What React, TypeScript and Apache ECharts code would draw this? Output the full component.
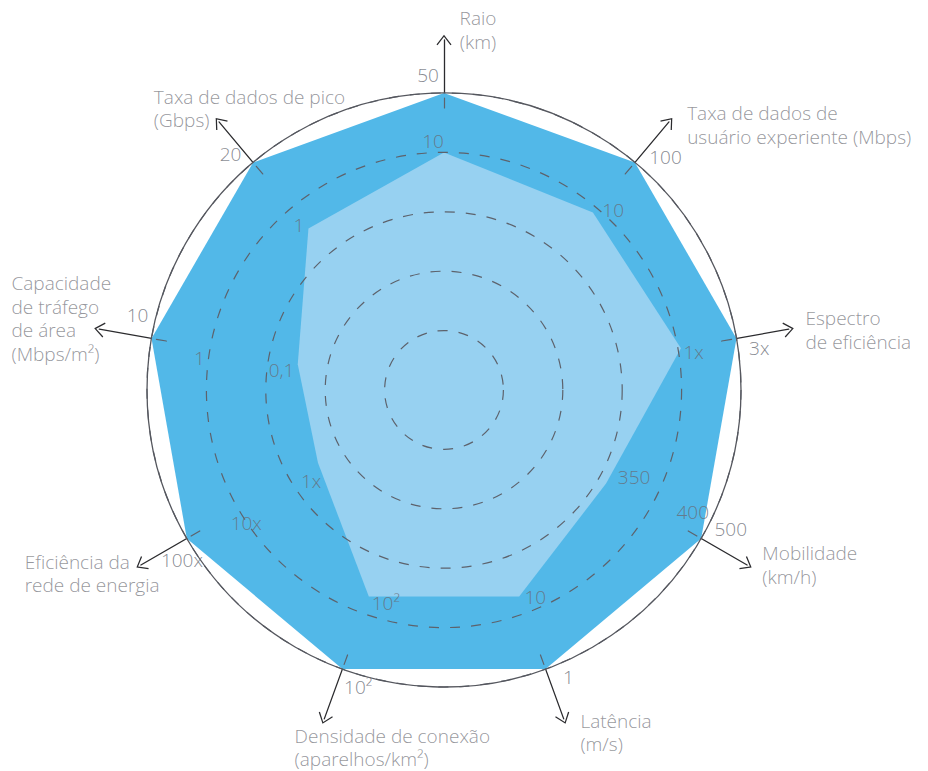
import React, { useEffect, useRef } from 'react';
import * as echarts from 'echarts';

// ---------- data ----------
const AXIS_NAMES = [
  'Raio\n(km)',
  'Taxa de dados de\nusuário experiente (Mbps)',
  'Espectro\nde eficiência',
  'Mobilidade\n(km/h)',
  'Latência\n(m/s)',
  'Densidade de conexão\n(aparelhos/km²)',
  'Eficiência da\nrede de energia',
  'Capacidade\nde tráfego\nde área\n(Mbps/m²)',
  'Taxa de dados de pico\n(Gbps)',
];

// normalised radial position (0-100 = centre to outer circle), clockwise from top
const OUTER_VALUES = [100, 100, 100, 100, 100, 100, 100, 100, 100];
const INNER_VALUES = [80, 78, 81, 63, 74, 74, 49, 50, 71];

// tick labels along the axes
const TICK_AXIS = [0, 0, 1, 1, 2, 2, 3, 3, 3, 4, 4, 5, 5, 6, 6, 6, 7, 7, 7, 8, 8];
const TICK_VALUE = [106, 84, 108, 83, 107, 85, 107, 93, 70, 105, 76, 104, 74, 105, 80, 54, 106, 83, 55, 107, 74];
const TICK_TEXT = ['50', '10', '100', '10', '3x', '1x', '500', '400', '350', '1', '10', '10²', '10²', '100x', '10x', '1x', '10', '1', '0,1', '20', '1'];

// ---------- layout / style ----------
const CX = 444;
const CY = 390;
const R = 297;
const ARROW_R = 350;
const NAME_VALUE = 119.5;
// perpendicular shift (px) of each tick label, + = clockwise side
const TICK_SHIFT = [-16, -11, 20, 14, 13, 6, -23, -19, -20, -19, -15, -21, -18, -16, -16, -12, 21, -11, -9, -12, -5];
// name block offset from arrow tip and alignment
const NAME_LAYOUT: { dx: number; dy: number; align: string }[] = [
  { dx: 34, dy: -5, align: 'center' },
  { dx: 15, dy: 7, align: 'left' },
  { dx: 12, dy: 1.5, align: 'left' },
  { dx: 11, dy: -2.5, align: 'left' },
  { dx: 15, dy: 9, align: 'left' },
  { dx: -28, dy: 24, align: 'left' },
  { dx: -112, dy: 6, align: 'left' },
  { dx: -83, dy: -10, align: 'left' },
  { dx: -62, dy: -9.5, align: 'left' },
];

const FONT = 'Open Sans';
const NAME_COLOR = '#7b7c84';
const TICK_COLOR = '#686b74';
const DARK_BLUE = '#52b8e8';
const LIGHT_BLUE = '#97d1f1';
const DASH_COLOR = '#5d626c';
const FONT_SIZE = 19;

const ARROW_PATH = 'path://M75 0 L150 96 L140 104 L75 20 L10 104 L0 96 Z';

export default function App() {
  const ref = useRef<HTMLDivElement>(null);

  useEffect(() => {
    if (!ref.current) return;
    const chart = echarts.init(ref.current, undefined, { renderer: 'svg' });
    const N = AXIS_NAMES.length;
    const STEP = 360 / N;
    // radar lays out indicators counter-clockwise; reorder so that visual order is clockwise
    const order = [0, ...Array.from({ length: N - 1 }, (_, i) => N - 1 - i)];
    const indicators = order.map((i) => ({ name: AXIS_NAMES[i], min: 0, max: 100 }));
    const reorder = (arr: number[]) => order.map((i) => arr[i]);

    const baseRadar = {
      center: [CX, CY],
      startAngle: 90,
      shape: 'circle',
      indicator: indicators,
      axisName: { show: false },
      splitArea: { show: false },
      axisLabel: { show: false },
      axisTick: { show: false },
    };

    const perp = (axis: number) => {
      const t = axis * STEP * Math.PI / 180;
      return [Math.cos(t), Math.sin(t)];
    };

    const tickData = TICK_TEXT.map((text, k) => {
      const a = TICK_AXIS[k];
      const p = perp(a);
      const s = TICK_SHIFT[k];
      return {
        value: [TICK_VALUE[k], a * STEP],
        label: {
          show: true,
          position: 'inside',
          formatter: text,
          offset: [p[0] * s, p[1] * s],
          align: 'center',
          verticalAlign: 'middle',
          color: TICK_COLOR,
          fontSize: FONT_SIZE,
          fontFamily: FONT,
          fontWeight: 300,
        },
      };
    });

    const nameData = AXIS_NAMES.map((name, a) => ({
      value: [NAME_VALUE, a * STEP],
      label: {
        show: true,
        position: 'inside',
        formatter: name,
        offset: [NAME_LAYOUT[a].dx, NAME_LAYOUT[a].dy],
        align: NAME_LAYOUT[a].align,
        verticalAlign: 'middle',
        color: NAME_COLOR,
        fontSize: FONT_SIZE,
        lineHeight: 23.5,
        fontFamily: FONT,
        fontWeight: 300,
      },
    }));

    chart.setOption({
      animation: false,
      backgroundColor: '#ffffff',
      radar: [
        {
          ...baseRadar,
          radius: R,
          splitNumber: 5,
          z: 3,
          axisLine: { show: false },
          splitLine: { show: true, lineStyle: { color: DASH_COLOR, width: 1.2, type: [10, 11] } },
        },
        {
          ...baseRadar,
          radius: R,
          splitNumber: 1,
          z: 3,
          axisLine: { show: false },
          splitLine: { show: true, lineStyle: { color: '#55575e', width: 1.3, type: 'solid' } },
        },
        {
          ...baseRadar,
          radius: ARROW_R,
          splitNumber: 1,
          z: 1,
          splitLine: { show: false },
          axisLine: {
            show: true,
            symbol: ['none', ARROW_PATH],
            symbolSize: [15, 11],
            lineStyle: { color: '#2b2b2e', width: 1.3 },
          },
        },
        {
          ...baseRadar,
          radius: R,
          splitNumber: 1,
          z: 4,
          splitLine: { show: false },
          axisLine: {
            show: true,
            lineStyle: { color: DASH_COLOR, width: 1.2, type: [10, 2000], dashOffset: 1728 },
          },
        },
      ],
      polar: { center: [CX, CY], radius: R * 1.3 },
      angleAxis: {
        type: 'value', min: 0, max: 360, startAngle: 90, clockwise: true, show: false,
        axisLine: { show: false }, axisTick: { show: false }, axisLabel: { show: false }, splitLine: { show: false },
      },
      radiusAxis: {
        type: 'value', min: 0, max: 130, show: false,
        axisLine: { show: false }, axisTick: { show: false }, axisLabel: { show: false }, splitLine: { show: false },
      },
      series: [
        {
          type: 'radar',
          radarIndex: 0,
          symbol: 'none',
          z: 2,
          lineStyle: { width: 0, opacity: 0 },
          data: [
            { value: reorder(OUTER_VALUES), areaStyle: { color: DARK_BLUE, opacity: 1 } },
            { value: reorder(INNER_VALUES), areaStyle: { color: LIGHT_BLUE, opacity: 1 } },
          ],
        },
        {
          type: 'scatter',
          coordinateSystem: 'polar',
          symbolSize: 1,
          itemStyle: { color: 'rgba(0,0,0,0)' },
          silent: true,
          z: 6,
          data: [...tickData, ...nameData],
        },
      ],
    });
    return () => chart.dispose();
  }, []);

  return (
    <div
      ref={ref}
      style={{ position: 'absolute', left: 0, top: 0, width: 928, height: 771 }}
    />
  );
}
